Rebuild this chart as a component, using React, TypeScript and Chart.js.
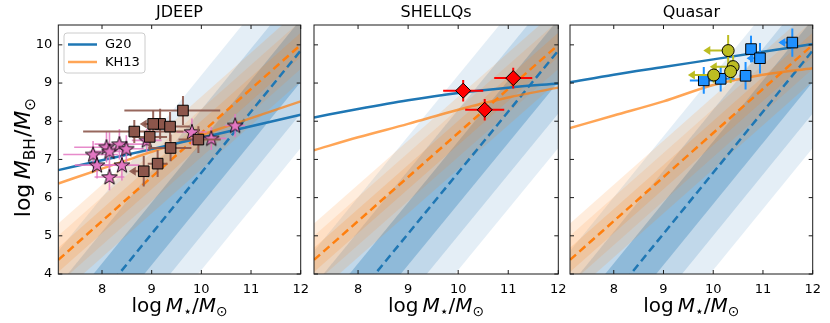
import React, { useEffect, useRef } from "react";
import { Chart, registerables } from "chart.js";

Chart.register(...registerables);

// ---------------- data ----------------
const X_MIN = 7.12;
const X_MAX = 12;
const Y_MIN = 4;
const Y_MAX = 10.52;
const xTicks = [8, 9, 10, 11, 12];
const yTicks = [4, 5, 6, 7, 8, 9, 10];
const panelTitles = ["JDEEP", "SHELLQs", "Quasar"];
const legendLabels = ["G20", "KH13"];

// local relations (dashed lines), values at X_MIN and X_MAX
const localX = [7.12, 12];
const g20Local = [2.05, 9.85];
const kh13Local = [4.37, 10.0];
// band half-widths (outer -> inner)
const g20Scatter = [2.55, 1.65, 0.82];
const kh13Scatter = [0.95, 0.63, 0.32];

// evolved relations (solid lines)
const evoX = [7.12, 8, 9, 10, 11, 12];
const g20Jdeep = [6.72, 6.98, 7.27, 7.57, 7.87, 8.17];
const kh13Jdeep = [6.37, 6.76, 7.2, 7.64, 8.08, 8.52];
const g20Shellqs = [8.1, 8.32, 8.55, 8.74, 8.88, 8.99];
const kh13Shellqs = [7.24, 7.58, 7.93, 8.3, 8.62, 8.88];
const g20Quasar = [9.02, 9.22, 9.42, 9.62, 9.82, 10.02];
const kh13Quasar = [7.82, 8.15, 8.52, 8.95, 9.22, 9.39];

// markers: [x, y, xErrLo, xErrHi, yErr, upperLimitInX]
const jdeepSquares = [
  [9.63, 8.28, 1.18, 0.75, 0.38, 0],
  [9.17, 7.93, 0.3, 0.3, 0.4, 0],
  [9.03, 7.93, 0.27, 0, 0.35, 1],
  [9.37, 7.86, 0.4, 0.4, 0.38, 0],
  [8.65, 7.73, 1.03, 0.99, 0.3, 0],
  [8.96, 7.59, 0.35, 0.35, 0.35, 0],
  [9.94, 7.52, 0.4, 0.45, 0.35, 0],
  [9.38, 7.3, 0.45, 0.42, 0.35, 0],
  [9.12, 6.89, 0.2, 0.2, 0.35, 0],
  [8.84, 6.69, 0.3, 0, 0.4, 1],
];
const jdeepStars = [
  [7.82, 7.13, 0.6, 0.5, 0.35, 0],
  [8.09, 7.32, 0.65, 0.45, 0.4, 0],
  [8.15, 7.21, 0.4, 0.4, 0.5, 0],
  [7.9, 6.85, 0.45, 0.4, 0.35, 0],
  [8.15, 6.54, 0.3, 0.3, 0.35, 0],
  [8.35, 7.4, 0.5, 0.5, 0.4, 0],
  [8.49, 7.28, 0.35, 0.35, 0.35, 0],
  [8.4, 6.85, 0.35, 0.35, 0.4, 0],
  [8.9, 7.5, 0.3, 0.3, 0.3, 0],
  [9.81, 7.72, 0.3, 0.3, 0.35, 0],
  [10.2, 7.55, 0.3, 0.3, 0.3, 0],
  [10.68, 7.89, 0.2, 0.2, 0.3, 0],
];
const shellqsDiamonds = [
  [10.1, 8.8, 0.4, 0.4, 0.28, 0],
  [10.53, 8.3, 0.39, 0.39, 0.28, 0],
  [11.1, 9.13, 0.38, 0.38, 0.27, 0],
];
const quasarSquares = [
  [11.59, 10.06, 0.28, 0, 0.37, 1],
  [10.76, 9.89, 0, 0, 0.35, 0],
  [10.94, 9.65, 0.27, 0, 0.4, 1],
  [10.65, 9.19, 0.12, 0.12, 0.36, 0],
  [10.15, 9.11, 0.28, 0.28, 0.33, 0],
  [9.81, 9.07, 0.28, 0.28, 0.35, 0],
];
const quasarCircles = [
  [10.3, 9.85, 0.5, 0, 0.41, 1],
  [10.4, 9.43, 0.47, 0, 0.3, 1],
  [10.35, 9.3, 0, 0, 0.3, 0],
  [10.01, 9.21, 0.52, 0, 0.2, 1],
];

// ---------------- styling ----------------
const BLUE = [31, 119, 180];
const ORANGE = [255, 127, 14];
const blueAlphas = [0.12, 0.18, 0.31];
const orangeAlphas = [0.14, 0.12, 0.16];
const FONT = '"DejaVu Sans", sans-serif';
const H = 323;

const LAYOUT = [
  { left: 0, width: 318, yAxisW: 58.3, rightPad: 17.3 },
  { left: 303, width: 270, yAxisW: 11, rightPad: 14.7 },
  { left: 559, width: 271, yAxisW: 11, rightPad: 17.3 },
];

const rgba = (c: number[], a: number) => `rgba(${c[0]},${c[1]},${c[2]},${a})`;

function makeStar(): HTMLCanvasElement {
  const c = document.createElement("canvas");
  c.width = 20;
  c.height = 20;
  const g = c.getContext("2d")!;
  const R = 8.2, r = 3.3;
  g.beginPath();
  for (let i = 0; i < 10; i++) {
    const ang = -Math.PI / 2 + (i * Math.PI) / 5;
    const rad = i % 2 === 0 ? R : r;
    const px = 10 + rad * Math.cos(ang);
    const py = 10.5 + rad * Math.sin(ang);
    if (i === 0) g.moveTo(px, py);
    else g.lineTo(px, py);
  }
  g.closePath();
  g.fillStyle = "rgb(227,119,194)";
  g.fill();
  g.lineWidth = 0.9;
  g.strokeStyle = "#000";
  g.stroke();
  return c;
}

type Seg = { t: string; italic?: boolean; sub?: boolean; gap?: number };

function drawMath(ctx: CanvasRenderingContext2D, segs: Seg[], size: number, cx: number, by: number) {
  const fontFor = (s: Seg) => `${s.italic ? "italic " : ""}${s.sub ? size * 0.7 : size}px ${FONT}`;
  let total = 0;
  const widths = segs.map((s) => {
    ctx.font = fontFor(s);
    const w = ctx.measureText(s.t).width + (s.gap || 0) * size;
    total += w;
    return w;
  });
  let x = cx - total / 2;
  ctx.textAlign = "left";
  ctx.textBaseline = "alphabetic";
  segs.forEach((s, i) => {
    ctx.font = fontFor(s);
    ctx.fillText(s.t, x, by + (s.sub ? 0.22 * size : 0));
    x += widths[i];
  });
}

const xLabelSegs: Seg[] = [
  { t: "log", gap: 0.2 },
  { t: "M", italic: true },
  { t: "⋆", sub: true },
  { t: "/" },
  { t: "M", italic: true },
  { t: "⊙", sub: true },
];
const yLabelSegs: Seg[] = [
  { t: "log", gap: 0.2 },
  { t: "M", italic: true },
  { t: "BH", sub: true, gap: 0.05 },
  { t: "/" },
  { t: "M", italic: true },
  { t: "⊙", sub: true },
];

const errorBarPlugin = {
  id: "errbars",
  beforeDatasetDraw(chart: any, args: any) {
    const ds = chart.data.datasets[args.index];
    if (!ds.errRows) return;
    const xs = chart.scales.x, ys = chart.scales.y;
    const ctx = chart.ctx as CanvasRenderingContext2D;
    ctx.save();
    ctx.strokeStyle = ds.errColor;
    ctx.fillStyle = ds.errColor;
    ctx.lineWidth = ds.errWidth;
    ds.errRows.forEach((e: number[]) => {
      const [x, y, xl, xh, ye, lim] = e;
      const px = xs.getPixelForValue(x), py = ys.getPixelForValue(y);
      ctx.beginPath();
      if (ye) {
        ctx.moveTo(px, ys.getPixelForValue(y - ye));
        ctx.lineTo(px, ys.getPixelForValue(y + ye));
      }
      if (lim) {
        const ex = xs.getPixelForValue(x - xl);
        ctx.moveTo(px, py);
        ctx.lineTo(ex + 4, py);
        ctx.stroke();
        ctx.beginPath();
        ctx.moveTo(ex, py);
        ctx.lineTo(ex + 7, py - 4.5);
        ctx.lineTo(ex + 7, py + 4.5);
        ctx.closePath();
        ctx.fill();
      } else {
        if (xl || xh) {
          ctx.moveTo(xs.getPixelForValue(x - xl), py);
          ctx.lineTo(xs.getPixelForValue(x + xh), py);
        }
        ctx.stroke();
      }
    });
    ctx.restore();
  },
};

function decorPlugin(idx: number) {
  return {
    id: "decor" + idx,
    afterDraw(chart: any) {
      const ctx = chart.ctx as CanvasRenderingContext2D;
      const a = chart.chartArea;
      const xs = chart.scales.x, ys = chart.scales.y;
      ctx.save();
      ctx.strokeStyle = "#1a1a1a";
      ctx.lineWidth = 1;
      ctx.strokeRect(a.left, a.top, a.right - a.left, a.bottom - a.top);
      ctx.beginPath();
      xTicks.forEach((v) => {
        const p = xs.getPixelForValue(v);
        ctx.moveTo(p, a.bottom);
        ctx.lineTo(p, a.bottom - 4);
        ctx.moveTo(p, a.top);
        ctx.lineTo(p, a.top + 4);
      });
      yTicks.forEach((v) => {
        const p = ys.getPixelForValue(v);
        ctx.moveTo(a.left, p);
        ctx.lineTo(a.left + 4, p);
        ctx.moveTo(a.right, p);
        ctx.lineTo(a.right - 4, p);
      });
      ctx.stroke();

      ctx.fillStyle = "#000";
      ctx.font = `16px ${FONT}`;
      ctx.textAlign = "center";
      ctx.textBaseline = "alphabetic";
      const cx = (a.left + a.right) / 2;
      ctx.fillText(panelTitles[idx], cx, 17);
      drawMath(ctx, xLabelSegs, 20, cx, 312);

      if (idx === 0) {
        ctx.save();
        ctx.translate(30, (a.top + a.bottom) / 2 + 8);
        ctx.rotate(-Math.PI / 2);
        drawMath(ctx, yLabelSegs, 22, 0, 0);
        ctx.restore();

        // legend
        const lx = a.left + 5.7, ly = a.top + 8;
        ctx.beginPath();
        (ctx as any).roundRect(lx, ly, 81, 40, 3);
        ctx.fillStyle = "rgba(255,255,255,0.8)";
        ctx.fill();
        ctx.strokeStyle = "rgb(204,204,204)";
        ctx.lineWidth = 1;
        ctx.stroke();
        const colors = [rgba(BLUE, 1), rgba(ORANGE, 0.7)];
        legendLabels.forEach((lab, i) => {
          const yy = ly + 11.5 + i * 17.5;
          ctx.strokeStyle = colors[i];
          ctx.lineWidth = 2.5;
          ctx.beginPath();
          ctx.moveTo(lx + 4, yy);
          ctx.lineTo(lx + 33, yy);
          ctx.stroke();
          ctx.fillStyle = "#000";
          ctx.font = `13px ${FONT}`;
          ctx.textAlign = "left";
          ctx.textBaseline = "middle";
          ctx.fillText(lab, lx + 41, yy + 0.5);
        });
      }
      ctx.restore();
    },
  };
}

function buildConfig(idx: number, star: HTMLCanvasElement) {
  const L = LAYOUT[idx];
  const datasets: any[] = [];
  const add = (d: any) => {
    d.order = 1000 - datasets.length;
    datasets.push(d);
  };
  const pts = (xs: number[], ys: number[], off = 0) => xs.map((x, i) => ({ x, y: ys[i] + off }));

  const bands = (center: number[], widths: number[], col: number[], alphas: number[]) => {
    widths.forEach((w, k) => {
      add({ data: pts(localX, center, w), borderWidth: 0, pointRadius: 0, fill: false, clip: 0 });
      add({
        data: pts(localX, center, -w),
        borderWidth: 0,
        pointRadius: 0,
        fill: "-1",
        backgroundColor: rgba(col, alphas[k]),
        clip: 0,
      });
    });
  };
  bands(g20Local, g20Scatter, BLUE, blueAlphas);
  bands(kh13Local, kh13Scatter, ORANGE, orangeAlphas);

  add({ data: pts(localX, kh13Local), borderColor: rgba(ORANGE, 1), borderWidth: 2.5, borderDash: [8, 4.5], pointRadius: 0, fill: false, clip: 0 });
  add({ data: pts(localX, g20Local), borderColor: rgba(BLUE, 1), borderWidth: 2.5, borderDash: [8, 4.5], pointRadius: 0, fill: false, clip: 0 });

  const evo = [
    [g20Jdeep, kh13Jdeep],
    [g20Shellqs, kh13Shellqs],
    [g20Quasar, kh13Quasar],
  ][idx];
  add({ data: pts(evoX, evo[1]), borderColor: rgba(ORANGE, 0.7), borderWidth: 2.5, pointRadius: 0, fill: false, cubicInterpolationMode: "monotone", clip: 0 });
  add({ data: pts(evoX, evo[0]), borderColor: rgba(BLUE, 1), borderWidth: 2.5, pointRadius: 0, fill: false, cubicInterpolationMode: "monotone", clip: 0 });

  const marker = (rows: number[][], style: any, radius: number, fillCol: string, errColor: string, errWidth: number) => {
    add({
      data: rows.map((r) => ({ x: r[0], y: r[1] })),
      showLine: false,
      pointStyle: style,
      pointRadius: radius,
      pointBackgroundColor: fillCol,
      pointBorderColor: "#000",
      pointBorderWidth: 1,
      errRows: rows,
      errColor,
      errWidth,
      clip: false,
    });
  };
  if (idx === 0) {
    marker(jdeepStars, star, 8, "rgb(227,119,194)", "rgba(227,119,194,0.85)", 1.6);
    marker(jdeepSquares, "rect", 7.5, "rgb(140,86,75)", "rgba(140,86,75,0.9)", 2);
  } else if (idx === 1) {
    marker(shellqsDiamonds, "rectRot", 7.5, "rgb(255,0,0)", "rgb(255,0,0)", 2);
  } else {
    marker(quasarSquares, "rect", 7.5, "rgb(30,144,255)", "rgb(30,144,255)", 2);
    marker(quasarCircles, "circle", 6, "rgb(188,189,34)", "rgb(188,189,34)", 2);
  }

  return {
    type: "line" as const,
    data: { datasets },
    options: {
      animation: false as const,
      responsive: false,
      maintainAspectRatio: false,
      events: [],
      layout: { padding: { top: 25, left: 0, right: L.rightPad, bottom: 0 } },
      plugins: { legend: { display: false }, tooltip: { enabled: false }, title: { display: false } },
      scales: {
        x: {
          type: "linear" as const,
          min: X_MIN,
          max: X_MAX,
          afterBuildTicks: (s: any) => {
            s.ticks = xTicks.map((v) => ({ value: v }));
          },
          afterFit: (s: any) => {
            s.height = 49;
            s.paddingLeft = 0;
            s.paddingRight = 0;
          },
          grid: { display: false, drawTicks: false },
          border: { display: false },
          ticks: {
            font: { family: FONT, size: 13 },
            color: "#000",
            padding: 8,
            maxRotation: 0,
            autoSkip: false,
            callback: (v: any) => String(v),
          },
        },
        y: {
          type: "linear" as const,
          min: Y_MIN,
          max: Y_MAX,
          afterBuildTicks: (s: any) => {
            s.ticks = yTicks.map((v) => ({ value: v }));
          },
          afterFit: (s: any) => {
            s.width = L.yAxisW;
            s.paddingTop = 0;
            s.paddingBottom = 0;
          },
          grid: { display: false, drawTicks: false },
          border: { display: false },
          ticks: {
            display: idx === 0,
            font: { family: FONT, size: 13 },
            color: "#000",
            padding: 6,
            autoSkip: false,
            callback: (v: any) => String(v),
          },
        },
      },
    },
    plugins: [errorBarPlugin, decorPlugin(idx)],
  };
}

function Panel({ idx }: { idx: number }) {
  const ref = useRef<HTMLCanvasElement>(null);
  useEffect(() => {
    const star = makeStar();
    const chart = new Chart(ref.current!, buildConfig(idx, star) as any);
    return () => chart.destroy();
  }, [idx]);
  const L = LAYOUT[idx];
  return (
    <canvas
      ref={ref}
      width={L.width}
      height={H}
      style={{ position: "absolute", left: L.left, top: 0, width: L.width, height: H }}
    />
  );
}

export default function App() {
  return (
    <div style={{ position: "fixed", left: 0, top: 0, width: 830, height: H, background: "#fff" }}>
      <Panel idx={0} />
      <Panel idx={1} />
      <Panel idx={2} />
    </div>
  );
}
